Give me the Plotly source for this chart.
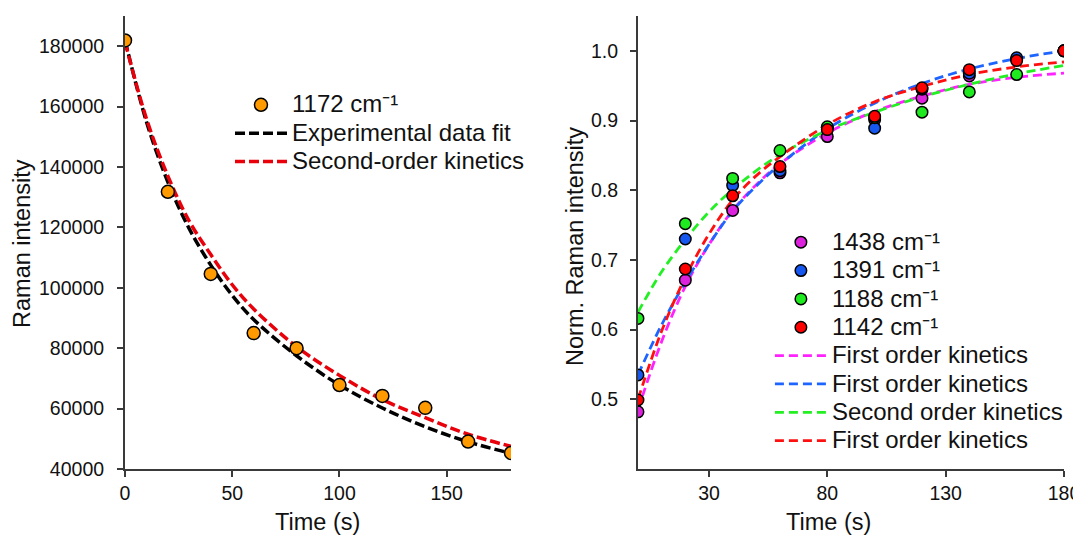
import plotly.graph_objects as go

# ---------------- data ----------------
time_s = [0, 20, 40, 60, 80, 100, 120, 140, 160, 180]

# left panel: 1172 cm-1 raw intensity
int_1172 = [181900, 131800, 104600, 85000, 80000, 67800, 64200, 60260, 49100, 45300]

fit_t = [0, 10, 20, 30, 40, 50, 60, 80, 100, 120, 140, 160, 180]
exp_data_fit = [182000, 155000, 135000, 119500, 107500, 97500, 89500, 77500, 67800, 60200, 54000, 49000, 45200]
second_order_fit = [181500, 156000, 137000, 122000, 111000, 101000, 93000, 80500, 71000, 63000, 57000, 51500, 47500]

# right panel: normalized intensities
norm_1438 = [0.482, 0.671, 0.771, 0.825, 0.877, 0.901, 0.932, 0.964, 0.988, 1.0]
norm_1391 = [0.535, 0.730, 0.807, 0.828, 0.890, 0.889, 0.945, 0.968, 0.990, 1.0]
norm_1188 = [0.616, 0.752, 0.817, 0.857, 0.891, 0.904, 0.912, 0.941, 0.966, 1.0]
norm_1142 = [0.499, 0.687, 0.792, 0.834, 0.887, 0.906, 0.947, 0.973, 0.986, 1.0]

curve_t = [0, 10, 20, 30, 40, 50, 60, 80, 100, 120, 140, 160, 180]
fo_1438 = [0.485, 0.583, 0.662, 0.722, 0.771, 0.808, 0.838, 0.882, 0.913, 0.935, 0.952, 0.962, 0.968]
fo_1391 = [0.535, 0.607, 0.668, 0.722, 0.770, 0.806, 0.837, 0.888, 0.925, 0.953, 0.974, 0.989, 1.000]
so_1188 = [0.625, 0.683, 0.729, 0.769, 0.801, 0.828, 0.851, 0.886, 0.912, 0.934, 0.952, 0.967, 0.979]
fo_1142 = [0.500, 0.598, 0.675, 0.737, 0.786, 0.821, 0.848, 0.894, 0.927, 0.949, 0.966, 0.977, 0.984]

left_ticks_y = [40000, 60000, 80000, 100000, 120000, 140000, 160000, 180000]
left_ticks_x = [0, 50, 100, 150]
right_ticks_x = [30, 80, 130, 180]
right_ticks_y = [0.5, 0.6, 0.7, 0.8, 0.9, 1.0]

FONT = "Liberation Sans, Arial, sans-serif"


def big(s):
    return '<span style="font-size:24px">' + s + '</span>'


fig = go.Figure()

# ---------------- left panel ----------------
fig.add_trace(go.Scatter(x=fit_t, y=exp_data_fit, mode="lines", line=dict(color="#000000", width=3.5, dash="10px,4px", shape="spline"),
                         name=big("Experimental data fit"), legend="legend", legendrank=2, xaxis="x", yaxis="y"))
fig.add_trace(go.Scatter(x=fit_t, y=second_order_fit, mode="lines", line=dict(color="#E8000B", width=3.5, dash="10px,4px", shape="spline"),
                         name=big("Second-order kinetics"), legend="legend", legendrank=3, xaxis="x", yaxis="y"))
fig.add_trace(go.Scatter(x=time_s, y=int_1172, mode="markers",
                         marker=dict(color="#FF9A00", size=13, line=dict(color="#000000", width=1.5)),
                         name=big("1172 cm⁻¹"), legend="legend", legendrank=1, xaxis="x", yaxis="y"))

# ---------------- right panel ----------------
line_specs = [
    (fo_1438, "#FF22FF", "First order kinetics", 5),
    (fo_1391, "#1E64FF", "First order kinetics", 6),
    (so_1188, "#22F022", "Second order kinetics", 7),
    (fo_1142, "#FF1010", "First order kinetics", 8),
]
for ys, col, nm, rk in line_specs:
    fig.add_trace(go.Scatter(x=curve_t, y=ys, mode="lines", line=dict(color=col, width=2.8, dash="9px,5px", shape="spline"),
                             name=big(nm), legend="legend2", legendrank=rk, xaxis="x2", yaxis="y2"))

marker_specs = [
    (norm_1438, "#DD22DD", "1438 cm⁻¹", 1),
    (norm_1391, "#1657F0", "1391 cm⁻¹", 2),
    (norm_1188, "#1FEA1F", "1188 cm⁻¹", 3),
    (norm_1142, "#FF0000", "1142 cm⁻¹", 4),
]
for ys, col, nm, rk in marker_specs:
    fig.add_trace(go.Scatter(x=time_s, y=ys, mode="markers",
                             marker=dict(color=col, size=11.5, line=dict(color="#000000", width=1.5)),
                             name=big(nm), legend="legend2", legendrank=rk, xaxis="x2", yaxis="y2"))

axis_common = dict(showline=True, linecolor="#3a3a3a", linewidth=2, ticks="outside", ticklen=6, tickwidth=2,
                   tickcolor="#3a3a3a", showgrid=False, zeroline=False,
                   tickfont=dict(family=FONT, size=19.5, color="#111111"))

# page body adds an 8 px offset, so margins are reduced by 8 on the left/top
fig.update_layout(
    width=1081, height=535,
    margin=dict(l=117, r=25, t=8, b=74),
    paper_bgcolor="white", plot_bgcolor="white",
    font=dict(family=FONT, color="#111111"),
    xaxis=dict(domain=[0, 0.4111], range=[0, 180], tickvals=left_ticks_x, anchor="y", ticklabelstandoff=0, **axis_common),
    yaxis=dict(domain=[0, 1], range=[40000, 190000], tickvals=left_ticks_y, tickformat="d", anchor="x", ticklabelstandoff=9, **axis_common),
    xaxis2=dict(domain=[0.5463, 1], range=[0, 180], tickvals=right_ticks_x, anchor="y2", ticklabelstandoff=0, **axis_common),
    yaxis2=dict(domain=[0, 1], range=[0.4, 1.05], tickvals=right_ticks_y, tickformat=".1f", anchor="x2", ticklabelstandoff=8, **axis_common),
    legend=dict(x=0.1118, y=0.8463, xanchor="left", yanchor="top", bgcolor="rgba(0,0,0,0)", borderwidth=0,
                font=dict(family=FONT, size=19.5, color="#111111"), itemwidth=52, tracegroupgap=0),
    legend2=dict(x=0.6868, y=0.543, xanchor="left", yanchor="top", bgcolor="rgba(0,0,0,0)", borderwidth=0,
                 font=dict(family=FONT, size=19.5, color="#111111"), itemwidth=52, tracegroupgap=0),
    showlegend=True,
)

title_font = dict(family=FONT, size=23.5, color="#111111")
fig.add_annotation(text="Raman intensity", xref="paper", yref="paper", x=-0.1097, y=0.4989, textangle=-90,
                   showarrow=False, xanchor="center", yanchor="middle", font=title_font)
fig.add_annotation(text="Norm. Raman intensity", xref="paper", yref="paper", x=0.4792, y=0.4923, textangle=-90,
                   showarrow=False, xanchor="center", yanchor="middle", font=title_font)
fig.add_annotation(text="Time (s)", xref="paper", yref="paper", x=0.2045, y=-0.117,
                   showarrow=False, xanchor="center", yanchor="middle", font=title_font)
fig.add_annotation(text="Time (s)", xref="paper", yref="paper", x=0.7487, y=-0.117,
                   showarrow=False, xanchor="center", yanchor="middle", font=title_font)

fig.write_html("out.html")
